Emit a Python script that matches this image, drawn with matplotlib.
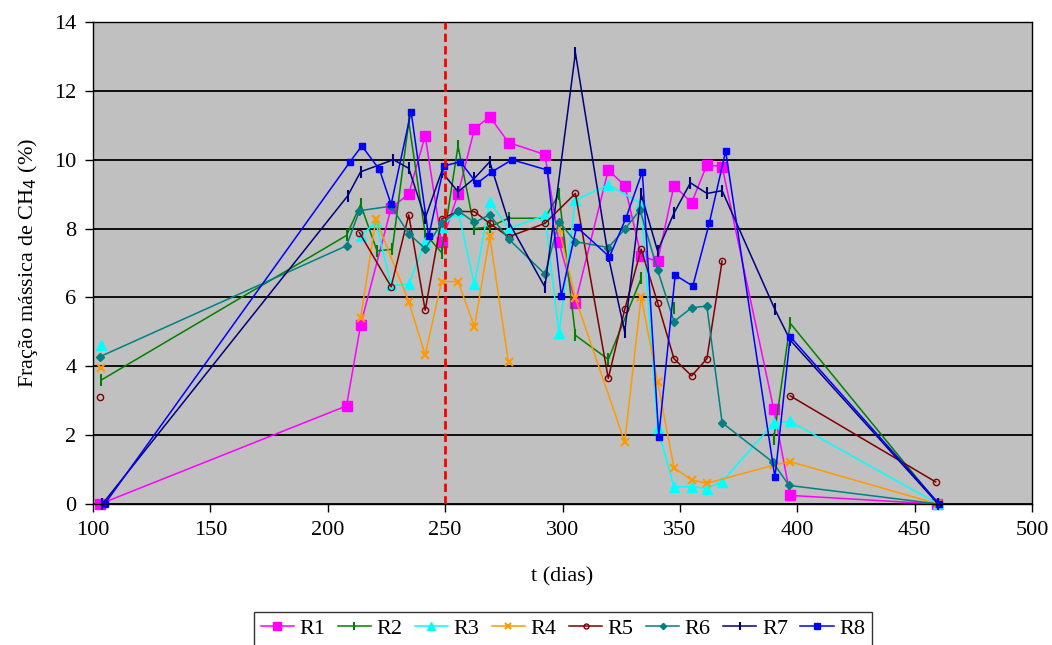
import numpy as np
import matplotlib
matplotlib.use("Agg")
import matplotlib.pyplot as plt

nan = np.nan

# dias de amostragem e fração mássica de CH4 (%) por reator; nan = quebra na linha
r1_t = [103, 208, 214, 227, 234.5, 241.5, 248.5, 255.5, 262.5, 269, 277, 292.5, 298.5, 305.5,
        319.5, 326.5, 333.5, 340.5, 347.5, 355, 361.5, 368, 390, 397, 459.5]
r1_y = [0, 2.85, 5.2, 8.6, 9.0, 10.7, 7.6, 9.0, 10.9, 11.25, 10.5, 10.15, 7.6, 5.85,
        9.7, 9.25, 7.2, 7.05, 9.25, 8.75, 9.85, 9.8, 2.75, 0.25, 0]

r2_t = [103.5, 208, 214, 221, 227.5, 234.5, 241.5, 248.5, 255.5, 262.5, 269, 277, 292.5, 298.5,
        305.5, 319.5, 333.5, 340, 347.5, 370, 390, 397, 460]
r2_y = [3.6, 7.8, 8.7, 7.35, 7.4, 11.1, 7.85, 7.3, 10.4, 8.0, 8.05, 8.3, 8.3, 9.0,
        4.9, 4.2, 6.55, nan, 5.7, nan, 1.9, 5.25, 0]

r3_t = [103.5, 150, 214, 220.5, 227, 234.5, 241.5, 248.5, 255.5, 262.5, 269, 277, 292.5, 298.5,
        305.5, 319.5, 333.5, 340.5, 347.5, 355, 361.5, 368, 390, 397, 460]
r3_y = [4.62, nan, 7.78, 8.2, 6.35, 6.38, 7.62, 8.05, 8.5, 6.38, 8.78, 8.0, 8.38, 4.96,
        8.83, 9.27, 8.73, 2.2, 0.5, 0.5, 0.45, 0.65, 2.35, 2.4, 0]

r4_t = [103.5, 150, 214, 220.5, 234.5, 241.5, 248.5, 255.5, 262.5, 269, 277, 290, 298.5, 305.5,
        326.5, 333.5, 340.5, 347.5, 355, 361.5, 390, 397, 460]
r4_y = [3.94, nan, 5.4, 8.27, 5.88, 4.33, 6.46, 6.46, 5.15, 7.77, 4.11, nan, 8.0, 5.97,
        1.8, 6.02, 3.55, 1.05, 0.7, 0.6, 1.13, 1.23, 0]

r5_t = [103, 150, 213.5, 227, 234.5, 241.5, 248.5, 255.5, 262.5, 269, 277, 292.5, 305.5,
        319.5, 326.5, 333.5, 340.5, 347.5, 355, 361.5, 368, 380, 397, 459]
r5_y = [3.12, nan, 7.88, 6.31, 8.4, 5.63, 8.28, 8.5, 8.49, 8.15, 7.76, 8.15, 9.02,
        3.65, 5.65, 7.4, 5.85, 4.22, 3.72, 4.22, 7.06, nan, 3.14, 0.64]

r6_t = [103, 208, 213.5, 227, 234.5, 241.5, 248.5, 255.5, 262.5, 269, 277, 292.5, 298.5, 305.5,
        319.5, 326.5, 333, 340.5, 347.5, 355, 361.5, 368, 389.5, 396.5, 460]
r6_y = [4.28, 7.5, 8.52, 8.65, 7.85, 7.42, 8.15, 8.52, 8.18, 8.4, 7.7, 6.68, 8.2, 7.62,
        7.45, 7.98, 8.54, 6.8, 5.3, 5.7, 5.75, 2.36, 1.22, 0.54, 0]

r7_t = [104, 208.5, 214, 228, 234.5, 241.5, 248.5, 255.5, 262.5, 269, 277, 292.5, 305.5,
        319.5, 326.5, 333.5, 340.5, 347.5, 354.5, 361.5, 368, 390.5, 397, 460]
r7_y = [0, 8.95, 9.65, 10.0, 9.75, 8.3, 9.65, 9.07, 9.46, 9.94, 8.2, 6.3, 13.1,
        7.2, 5.0, 9.0, 7.35, 8.45, 9.33, 9.02, 9.1, 5.65, 4.76, 0]

r8_t = [105, 209.5, 214.5, 222, 227, 235.5, 243, 249.5, 256.5, 263.5, 270, 278.5, 293.5, 299.5,
        306, 320, 327, 334, 341, 348, 355.5, 362.5, 369.5, 390.5, 397, 460.5]
r8_y = [0, 9.94, 10.4, 9.72, 8.7, 11.4, 7.77, 9.82, 9.94, 9.31, 9.65, 10.0, 9.7, 6.05,
        8.05, 7.18, 8.3, 9.65, 1.96, 6.65, 6.33, 8.15, 10.25, 0.77, 4.86, 0]

series = [
    ("R1", r1_t, r1_y, "#FF00FF", "s", 6.5, None),
    ("R2", r2_t, r2_y, "#008000", "|", 8, None),
    ("R3", r3_t, r3_y, "#00FFFF", "^", 7, None),
    ("R4", r4_t, r4_y, "#FF9900", "x", 6, None),
    ("R5", r5_t, r5_y, "#800000", "o", 4.5, "none"),
    ("R6", r6_t, r6_y, "#008080", "D", 4, None),
    ("R7", r7_t, r7_y, "#000080", "|", 8, None),
    ("R8", r8_t, r8_y, "#0000FF", "s", 5, None),
]

plt.rcParams["font.family"] = ["Liberation Serif", "DejaVu Serif"]

fig = plt.figure(figsize=(10.52, 6.45), dpi=100)
ax = fig.add_axes([93 / 1052, 1 - 504 / 645, 939 / 1052, 482 / 645])
ax.set_facecolor("#C0C0C0")

for name, t, y, c, m, ms, mfc in series:
    ax.plot(t, y, color=c, lw=1.1, marker=m, ms=ms, mec=c,
            mfc=c if mfc is None else mfc, mew=1.5 if m in "|x" else 1.0,
            label=name, clip_on=False)

ax.axvline(250, color="#FF0000", lw=2, ls=(0, (3, 1.5)), zorder=5)

ax.set_xlim(100, 500)
ax.set_ylim(0, 14)
ax.set_xticks(np.arange(100, 501, 50))
ax.set_yticks(np.arange(0, 15, 2))
ax.grid(axis="y", color="black", lw=1.3)
ax.set_axisbelow(True)
for s in ax.spines.values():
    s.set_color("black")
    s.set_linewidth(1.0)
ax.tick_params(direction="out", length=6, width=1, labelsize=16, pad=6)

ax.set_xlabel("t (dias)", fontsize=16, labelpad=20)
ax.set_ylabel("Fração mássica de CH$_4$ (%)", fontsize=16, labelpad=10)

fig.legend(loc="upper center", bbox_to_anchor=(0.535, 1 - 612 / 645), ncol=8,
           fontsize=16, frameon=True, fancybox=False, edgecolor="black",
           handlelength=1.5, handletextpad=0.25, columnspacing=0.55,
           borderpad=0.3, borderaxespad=0, markerscale=0.8)

fig.savefig("out.png", dpi=100)
